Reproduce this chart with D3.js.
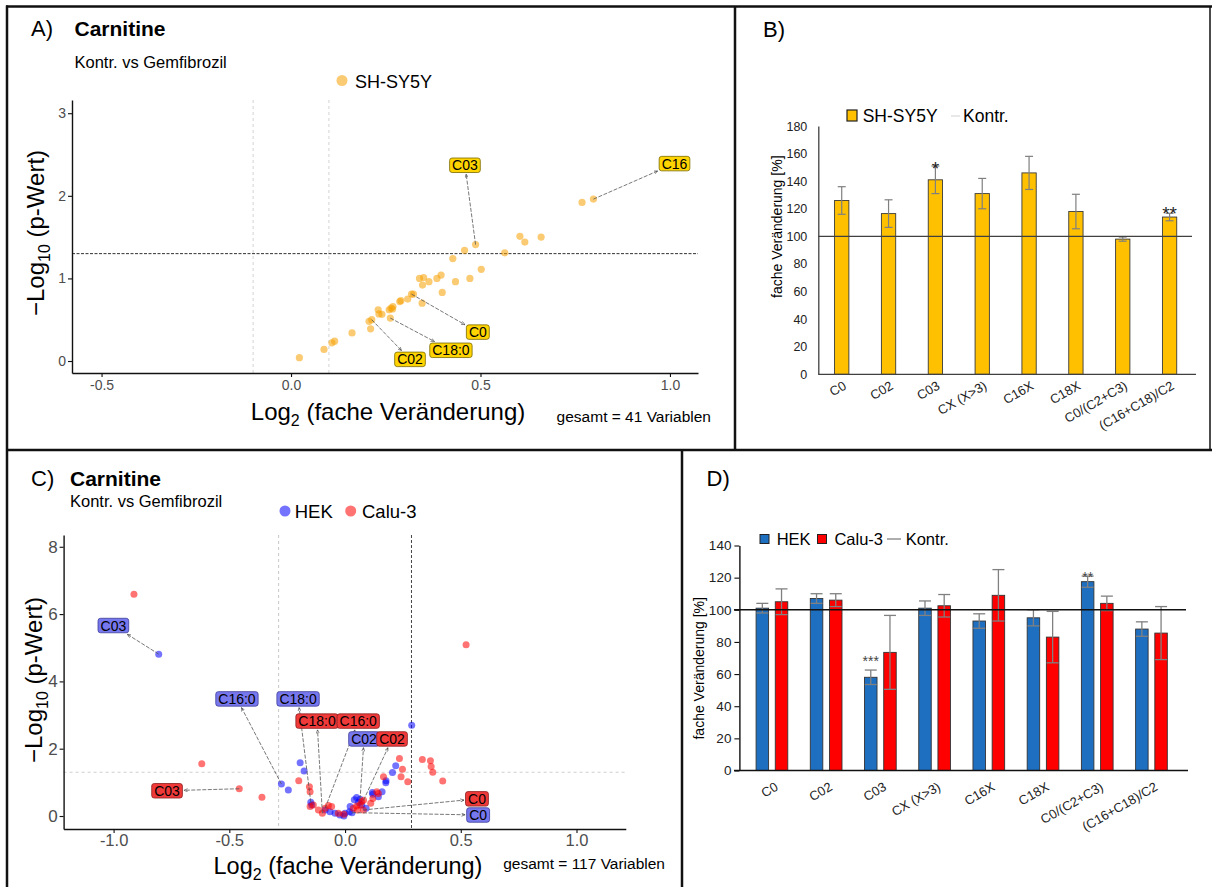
<!DOCTYPE html>
<html><head><meta charset="utf-8">
<script src="https://cdn.jsdelivr.net/npm/d3@7"></script>
<style>
body{margin:0;background:#fff}
svg{display:block}
text{font-family:"Liberation Sans",Arial,Helvetica,sans-serif}
</style>
</head><body>
<svg id="chart" width="1212" height="887"></svg>
<script>
// ---------- Panel A: SH-SY5Y volcano ----------
const aLog2FC  = [0.022,0.087,0.108,0.115,0.161,0.206,0.213,0.210,0.230,0.232,0.240,0.262,0.259,0.264,0.269,0.287,0.290,0.308,0.318,0.323,0.346,0.339,0.350,0.347,0.364,0.385,0.396,0.399,0.427,0.434,0.458,0.472,0.487,0.502,0.564,0.604,0.617,0.660,0.768,0.798,0.268];
const aNegLogP = [0.04,0.14,0.22,0.24,0.34,0.48,0.50,0.39,0.62,0.57,0.565,0.52,0.62,0.64,0.66,0.72,0.73,0.75,0.81,0.81,0.70,1.00,1.01,0.92,0.96,1.00,1.04,0.83,1.24,0.96,1.34,1.00,1.41,1.11,1.31,1.51,1.44,1.50,1.92,1.96,0.63];
const aLabelNames = ["C03","C16","C0","C18:0","C02"];
const aLabelFromX = [0.487,0.798,0.318,0.262,0.213];
const aLabelFromY = [1.41,1.96,0.81,0.52,0.50];
const aLabelAtX   = [0.459,1.012,0.493,0.422,0.314];
const aLabelAtY   = [2.37,2.39,0.35,0.13,0.02];
const aXTicks = [-0.5,0,0.5,1.0];
const aYTicks = [0,1,2,3];
const aFcCut = [-0.1,0.1];
const pCut = 1.3;

// ---------- Panel B: SH-SY5Y bars ----------
const bCats = ["C0","C02","C03","CX (X>3)","C16X","C18X","C0/(C2+C3)","(C16+C18)/C2"];
const bMean = [126,116.5,141,131,146,118,98,114];
const bErr  = [10,10,10,11,12,12.5,1.5,2.7];
const bSig  = ["","","*","","","","","**"];
const bSigPos = [0,0,150.4,0,0,0,0,117.7];
const bYTicks = [0,20,40,60,80,100,120,140,160,180];

// ---------- Panel C: HEK / Calu-3 volcano ----------
const hekX = [-0.805,-0.275,-0.245,-0.194,-0.177,-0.148,-0.144,-0.086,-0.065,-0.043,-0.022,-0.005,0.000,0.019,0.022,0.030,0.040,0.050,0.058,0.065,0.072,0.091,0.118,0.120,0.144,0.160,0.176,0.177,0.205,0.219,0.288];
const hekY = [4.81,0.95,0.77,1.58,1.34,0.41,0.33,0.18,0.13,0.08,0.03,0.00,0.08,0.13,0.28,0.10,0.48,0.55,0.40,0.50,0.33,0.23,0.70,0.65,0.57,0.72,0.99,1.05,1.29,1.49,2.70];
const caluX = [-0.912,-0.619,-0.457,-0.359,-0.200,-0.154,-0.151,-0.151,-0.137,-0.115,-0.098,-0.086,-0.072,-0.058,-0.029,-0.005,0.036,0.050,0.053,0.065,0.072,0.079,0.080,0.111,0.120,0.137,0.144,0.166,0.235,0.242,0.248,0.271,0.334,0.369,0.372,0.379,0.422,0.523];
const caluY = [6.59,1.55,0.81,0.56,1.05,0.87,0.72,0.28,0.33,0.18,0.08,0.23,0.31,0.28,0.08,0.05,0.23,0.30,0.18,0.33,0.43,0.18,0.47,0.38,0.52,0.72,0.67,1.17,1.71,1.17,1.39,1.02,1.68,1.64,1.47,1.30,1.04,5.09];
const cLabelNames  = ["C03","C03","C16:0","C18:0","C18:0","C16:0","C02","C02","C0","C0"];
const cLabelSeries = ["HEK","Calu-3","HEK","HEK","Calu-3","Calu-3","HEK","Calu-3","Calu-3","HEK"];
const cLabelFromX  = [-0.805,-0.457,-0.275,-0.148,-0.098,-0.086,0.065,0.080,0.079,0.030];
const cLabelFromY  = [4.81,0.81,0.95,0.41,0.08,0.23,0.50,0.47,0.18,0.10];
const cLabelAtX    = [-1.001,-0.769,-0.467,-0.203,-0.121,0.057,0.082,0.203,0.570,0.575];
const cLabelAtY    = [5.66,0.75,3.48,3.48,2.82,2.82,2.29,2.29,0.51,0.03];
const cXTicks = [-1.0,-0.5,0,0.5,1.0];
const cYTicks = [0,2,4,6,8];
const cFcCut = [-0.287,0.287];

// ---------- Panel D: HEK / Calu-3 bars ----------
const dCats = ["C0","C02","C03","CX (X>3)","C16X","C18X","C0/(C2+C3)","(C16+C18)/C2"];
const dHEK     = [101,107,58,101,93,95,117.5,88];
const dHEKErr  = [3,3,4.5,4.5,4.5,5,3.5,4.5];
const dCalu    = [105,106,73.5,102.5,109,83,104,85.5];
const dCaluErr = [8,4,23,7,16,16,4.5,16.5];
const dSig     = ["","","***","","","","**",""];
const dSigPos  = [0,0,69.3,0,0,0,121.7,0];
const dYTicks = [0,20,40,60,80,100,120,140];
const kontr = 100;

// ================= drawing =================
const svg = d3.select("#chart");
const FONT = '"Liberation Sans",Arial,Helvetica,sans-serif';
const defs = svg.append("defs");
defs.append("marker").attr("id","arr").attr("viewBox","0 0 8 8").attr("refX",7.5).attr("refY",4)
  .attr("markerWidth",5).attr("markerHeight",5).attr("orient","auto")
  .append("path").attr("d","M0,0.8 L7.5,4 L0,7.2").attr("fill","none").attr("stroke","#444").attr("stroke-width",1.2);

function txt(x,y,s,size,opts={}){
  const t = svg.append("text").attr("x",x).attr("y",y).style("font-size",size+"px").text(s);
  if(opts.bold) t.style("font-weight","bold");
  if(opts.anchor) t.attr("text-anchor",opts.anchor);
  t.attr("fill",opts.fill||"#000");
  return t;
}
function styleAxis(g,size,col,lineCol,lw){
  g.selectAll("text").style("font-size",size+"px").style("font-family",FONT).attr("fill",col);
  g.select(".domain").attr("stroke",lineCol).attr("stroke-width",lw);
  g.selectAll(".tick line").attr("stroke",lineCol).attr("stroke-width",lw*0.8);
}
function repel(layerArrow, layerLab, px,py,lx,ly,label,fill,stroke,fs){
  const g = layerLab.append("g");
  const t = g.append("text").attr("x",lx).attr("y",ly).attr("dy","0.36em").attr("text-anchor","middle")
    .style("font-size",fs+"px").attr("fill","#000").text(label);
  const w = t.node().getComputedTextLength()+5, h = fs+0.5;
  g.insert("rect","text").attr("x",lx-w/2).attr("y",ly-h/2).attr("width",w).attr("height",h)
    .attr("rx",2.5).attr("fill",fill).attr("stroke",stroke).attr("stroke-width",0.8);
  const dx = px-lx, dy = py-ly;
  const s = Math.min((w/2+1.5)/Math.max(Math.abs(dx),1e-6),(h/2+1.5)/Math.max(Math.abs(dy),1e-6));
  layerArrow.append("line").attr("x1",px).attr("y1",py).attr("x2",lx+dx*s).attr("y2",ly+dy*s)
    .attr("stroke","#555").attr("stroke-width",0.8).attr("stroke-dasharray","4,1.5").attr("marker-end","url(#arr)");
}

// ---------- Panel A ----------
{
  const x = d3.scaleLinear().domain([-0.578,1.074]).range([72,698]);
  const y = d3.scaleLinear().domain([-0.145,3.16]).range([373,100]);
  const g = svg.append("g");
  aFcCut.forEach(v=>g.append("line").attr("x1",x(v)).attr("x2",x(v)).attr("y1",y.range()[1]).attr("y2",y.range()[0])
    .attr("stroke","#c8c8c8").attr("stroke-width",0.8).attr("stroke-dasharray","3,3"));
  g.append("line").attr("x1",x.range()[0]).attr("x2",x.range()[1]).attr("y1",y(pCut)).attr("y2",y(pCut))
    .attr("stroke","#333").attr("stroke-width",1).attr("stroke-dasharray","3,1.5");
  const ax = g.append("g").attr("transform",`translate(0,${y.range()[0]})`)
    .call(d3.axisBottom(x).tickValues(aXTicks).tickFormat(d=>d.toFixed(1)).tickSize(4).tickSizeOuter(0).tickPadding(3));
  styleAxis(ax,14,"#4d4d4d","#111",1.4);
  const ay = g.append("g").attr("transform",`translate(${x.range()[0]},0)`)
    .call(d3.axisLeft(y).tickValues(aYTicks).tickFormat(d3.format("d")).tickSize(4).tickSizeOuter(0).tickPadding(2));
  styleAxis(ay,14,"#4d4d4d","#111",1.4);
  g.selectAll("circle.pt").data(aLog2FC).join("circle").attr("class","pt")
    .attr("cx",d=>x(d)).attr("cy",(d,i)=>y(aNegLogP[i])).attr("r",3.6)
    .attr("fill","#f5a000").attr("fill-opacity",0.55);
  const la = g.append("g"), ll = g.append("g");
  aLabelNames.forEach((n,i)=>repel(la,ll,x(aLabelFromX[i]),y(aLabelFromY[i]),x(aLabelAtX[i]),y(aLabelAtY[i]),n,"#ffd400","#7a6a00",14));
  txt(31,36,"A)",22);
  txt(74.5,36,"Carnitine",21,{bold:true});
  txt(74.5,67.5,"Kontr. vs Gemfibrozil",16.5);
  svg.append("circle").attr("cx",342).attr("cy",80.5).attr("r",5.5).attr("fill","#f5a000").attr("fill-opacity",0.55);
  txt(355,87.5,"SH-SY5Y",18);
  const xl = txt(388,420,"",24,{anchor:"middle"});
  xl.append("tspan").text("Log");
  xl.append("tspan").attr("dy",6).style("font-size","16px").text("2");
  xl.append("tspan").attr("dy",-6).text(" (fache Veränderung)");
  txt(711,422,"gesamt = 41 Variablen",15.5,{anchor:"end"});
  const yl = svg.append("text").attr("transform","translate(44,233) rotate(-90)").attr("text-anchor","middle").style("font-size","24px");
  yl.append("tspan").text("−Log");
  yl.append("tspan").attr("dy",6).style("font-size","16px").text("10");
  yl.append("tspan").attr("dy",-6).text(" (p-Wert)");
}

// ---------- Panel B ----------
{
  const x = d3.scaleBand().domain(bCats).range([818.3,1193]);
  const y = d3.scaleLinear().domain([0,180]).range([374.3,126]);
  const g = svg.append("g");
  const bw = 14.3;
  g.selectAll("rect.bar").data(bMean).join("rect").attr("class","bar")
    .attr("x",(d,i)=>x(bCats[i])+x.bandwidth()/2-bw/2).attr("width",bw)
    .attr("y",d=>y(d)).attr("height",d=>y(0)-y(d))
    .attr("fill","#ffc000").attr("stroke","#3a3a3a").attr("stroke-width",0.9);
  bMean.forEach((m,i)=>{
    const cx = x(bCats[i])+x.bandwidth()/2;
    const y1 = y(m+bErr[i]), y2 = y(m-bErr[i]);
    g.append("line").attr("x1",cx).attr("x2",cx).attr("y1",y1).attr("y2",y2).attr("stroke","#7f7f7f").attr("stroke-width",1.2);
    [y1,y2].forEach(yy=>g.append("line").attr("x1",cx-4).attr("x2",cx+4).attr("y1",yy).attr("y2",yy).attr("stroke","#7f7f7f").attr("stroke-width",1.2));
    if(bSig[i]) g.append("text").attr("x",cx).attr("y",y(bSigPos[i])+8).attr("text-anchor","middle").style("font-size","19px").attr("fill","#222").text(bSig[i]);
  });
  g.append("line").attr("x1",818.3).attr("x2",1192).attr("y1",y(kontr)).attr("y2",y(kontr)).attr("stroke","#404040").attr("stroke-width",1.3);
  const ax = g.append("g").attr("transform",`translate(0,${y(0)})`)
    .call(d3.axisBottom(x).tickSize(0).tickSizeOuter(0));
  styleAxis(ax,13,"#222","#404040",1.3);
  ax.select(".domain").attr("d","M818.3,0H1196");
  ax.selectAll(".tick text").attr("x",0).attr("y",0).attr("dy",0).attr("text-anchor","end")
    .attr("transform","translate(5.5,14) rotate(-30)");
  const ay = g.append("g").attr("transform","translate(818.3,0)")
    .call(d3.axisLeft(y).tickValues(bYTicks).tickSize(0).tickSizeOuter(0).tickPadding(11));
  styleAxis(ay,12.5,"#222","#404040",1.3);
  txt(763,37,"B)",22);
  g.append("rect").attr("x",847).attr("y",110).attr("width",10).attr("height",11).attr("fill","#ffc000").attr("stroke","#222").attr("stroke-width",1.2);
  txt(862.7,121.5,"SH-SY5Y",17.5);
  g.append("line").attr("x1",951).attr("x2",960).attr("y1",116).attr("y2",116).attr("stroke","#d0d0d0").attr("stroke-width",1);
  txt(963,121.5,"Kontr.",17.5);
  svg.append("text").attr("transform","translate(782,226.7) rotate(-90)").attr("text-anchor","middle").style("font-size","14px").text("fache Veränderung [%]");
}

// ---------- Panel C ----------
{
  const x = d3.scaleLinear().domain([-1.216,1.213]).range([63.6,625.8]);
  const y = d3.scaleLinear().domain([-0.386,8.35]).range([829,535]);
  const g = svg.append("g");
  g.append("line").attr("x1",x(cFcCut[0])).attr("x2",x(cFcCut[0])).attr("y1",535).attr("y2",829)
    .attr("stroke","#c0c0c0").attr("stroke-width",0.9).attr("stroke-dasharray","3,3");
  g.append("line").attr("x1",x(cFcCut[1])).attr("x2",x(cFcCut[1])).attr("y1",535).attr("y2",829)
    .attr("stroke","#444").attr("stroke-width",1).attr("stroke-dasharray","3,2");
  g.append("line").attr("x1",63.6).attr("x2",625.8).attr("y1",y(pCut)).attr("y2",y(pCut))
    .attr("stroke","#c8c8c8").attr("stroke-width",0.9).attr("stroke-dasharray","3,3");
  const ax = g.append("g").attr("transform","translate(0,829)")
    .call(d3.axisBottom(x).tickValues(cXTicks).tickFormat(d=>d.toFixed(1)).tickSize(4).tickSizeOuter(0).tickPadding(1));
  styleAxis(ax,16.5,"#4d4d4d","#111",1.4);
  const ay = g.append("g").attr("transform","translate(63.6,0)")
    .call(d3.axisLeft(y).tickValues(cYTicks).tickFormat(d3.format("d")).tickSize(4).tickSizeOuter(0).tickPadding(2));
  styleAxis(ay,17,"#4d4d4d","#111",1.4);
  g.selectAll("circle.h").data(hekX).join("circle").attr("class","h")
    .attr("cx",d=>x(d)).attr("cy",(d,i)=>y(hekY[i])).attr("r",3.5).attr("fill","#0000ff").attr("fill-opacity",0.55);
  g.selectAll("circle.c").data(caluX).join("circle").attr("class","c")
    .attr("cx",d=>x(d)).attr("cy",(d,i)=>y(caluY[i])).attr("r",3.5).attr("fill","#ff0000").attr("fill-opacity",0.55);
  const la = g.append("g"), ll = g.append("g");
  cLabelNames.forEach((n,i)=>{
    const hek = cLabelSeries[i]==="HEK";
    repel(la,ll,x(cLabelFromX[i]),y(cLabelFromY[i]),x(cLabelAtX[i]),y(cLabelAtY[i]),n,
      hek?"#7878ee":"#f03a3a", hek?"#3c3c9a":"#8a1e1e",14);
  });
  txt(31,486,"C)",22);
  txt(70,486,"Carnitine",21,{bold:true});
  txt(70,506.5,"Kontr. vs Gemfibrozil",16.5);
  svg.append("circle").attr("cx",285).attr("cy",511).attr("r",5.5).attr("fill","#0000ff").attr("fill-opacity",0.55);
  txt(294.7,517.5,"HEK",18.5);
  svg.append("circle").attr("cx",350.7).attr("cy",511).attr("r",5.5).attr("fill","#ff0000").attr("fill-opacity",0.55);
  txt(362,517.5,"Calu-3",18.5);
  const xl = txt(348,873.5,"",23.5,{anchor:"middle"});
  xl.append("tspan").text("Log");
  xl.append("tspan").attr("dy",6).style("font-size","16px").text("2");
  xl.append("tspan").attr("dy",-6).text(" (fache Veränderung)");
  txt(665,868.5,"gesamt = 117 Variablen",15.5,{anchor:"end"});
  const yl = svg.append("text").attr("transform","translate(42,680) rotate(-90)").attr("text-anchor","middle").style("font-size","24px");
  yl.append("tspan").text("−Log");
  yl.append("tspan").attr("dy",6).style("font-size","16px").text("10");
  yl.append("tspan").attr("dy",-6).text(" (p-Wert)");
}

// ---------- Panel D ----------
{
  const x = d3.scaleBand().domain(dCats).range([739.4,1184]).paddingOuter(0.1);
  const y = d3.scaleLinear().domain([0,140]).range([770.5,545.5]);
  const g = svg.append("g");
  const bw = 12.5, off = 9.6;
  const series = [{v:dHEK,e:dHEKErr,c:"#1f6fc0",o:-off},{v:dCalu,e:dCaluErr,c:"#ff0000",o:off}];
  series.forEach(s=>{
    g.selectAll(null).data(s.v).join("rect")
      .attr("x",(d,i)=>x(dCats[i])+x.bandwidth()/2+s.o-bw/2).attr("width",bw)
      .attr("y",d=>y(d)).attr("height",d=>y(0)-y(d))
      .attr("fill",s.c).attr("stroke","#333").attr("stroke-width",0.9);
  });
  series.forEach(s=>{
    s.v.forEach((m,i)=>{
      const cx = x(dCats[i])+x.bandwidth()/2+s.o;
      const y1 = y(m+s.e[i]), y2 = y(m-s.e[i]);
      g.append("line").attr("x1",cx).attr("x2",cx).attr("y1",y1).attr("y2",y2).attr("stroke","#808080").attr("stroke-width",1.3);
      [y1,y2].forEach(yy=>g.append("line").attr("x1",cx-6).attr("x2",cx+6).attr("y1",yy).attr("y2",yy).attr("stroke","#808080").attr("stroke-width",1.3));
    });
  });
  dSig.forEach((s,i)=>{
    if(!s) return;
    g.append("text").attr("x",x(dCats[i])+x.bandwidth()/2-off).attr("y",y(dSigPos[i])+7).attr("text-anchor","middle")
      .style("font-size","14px").attr("fill","#444").text(s);
  });
  g.append("line").attr("x1",734).attr("x2",1186).attr("y1",y(kontr)).attr("y2",y(kontr)).attr("stroke","#111").attr("stroke-width",1.4);
  const ax = g.append("g").attr("transform",`translate(0,${y(0)})`)
    .call(d3.axisBottom(x).tickSize(0).tickSizeOuter(0));
  styleAxis(ax,13,"#222","#111",1.4);
  ax.select(".domain").attr("d","M734,0H1188");
  ax.selectAll(".tick text").attr("x",0).attr("y",0).attr("dy",0).attr("text-anchor","end")
    .attr("transform","translate(7,19) rotate(-30)");
  const ay = g.append("g").attr("transform","translate(739.4,0)")
    .call(d3.axisLeft(y).tickValues(dYTicks).tickSize(5).tickSizeOuter(0).tickPadding(3));
  styleAxis(ay,13.5,"#222","#111",1.4);
  txt(706.5,486,"D)",22);
  g.append("rect").attr("x",760).attr("y",534.5).attr("width",9).attr("height",9).attr("fill","#1f6fc0").attr("stroke","#222").attr("stroke-width",1);
  txt(776.7,544.5,"HEK",16.5);
  g.append("rect").attr("x",817.5).attr("y",534.5).attr("width",9).attr("height",9).attr("fill","#ff0000").attr("stroke","#222").attr("stroke-width",1);
  txt(834.4,544.5,"Calu-3",16.5);
  g.append("line").attr("x1",887).attr("x2",901).attr("y1",539).attr("y2",539).attr("stroke","#777").attr("stroke-width",1.2);
  txt(905.7,544.5,"Kontr.",16.5);
  svg.append("text").attr("transform","translate(704,668.3) rotate(-90)").attr("text-anchor","middle").style("font-size","14px").text("fache Veränderung [%]");
}

// ---------- panel frames ----------
const fr = svg.append("g").attr("stroke","#111").attr("stroke-width",2.5).attr("fill","none");
fr.append("line").attr("x1",6).attr("x2",1212).attr("y1",6.5).attr("y2",6.5);
fr.append("line").attr("x1",7).attr("x2",7).attr("y1",5.5).attr("y2",887);
fr.append("line").attr("x1",6).attr("x2",1212).attr("y1",450).attr("y2",450);
fr.append("line").attr("x1",735).attr("x2",735).attr("y1",6).attr("y2",450);
fr.append("line").attr("x1",682).attr("x2",682).attr("y1",450).attr("y2",887);
fr.append("line").attr("x1",1210).attr("x2",1210).attr("y1",6).attr("y2",450).attr("stroke-width",1.5);
</script>
</body></html>
